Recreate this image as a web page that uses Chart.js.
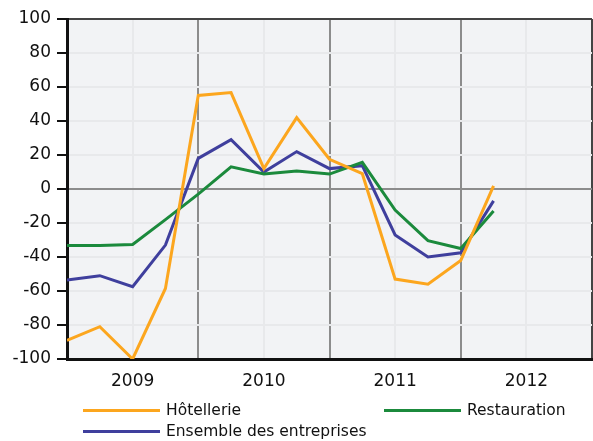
<!DOCTYPE html>
<html>
<head>
<meta charset="utf-8">
<script src="https://cdn.jsdelivr.net/npm/chart.js@4.4.1/dist/chart.umd.min.js"></script>
<style>
    html, body { margin: 0; padding: 0; background: #fff; }
    #wrap { position: relative; width: 593px; height: 441px; }
    #legend { position: absolute; left: 0; top: 0; width: 593px; height: 441px; pointer-events: none;
        font-family: "DejaVu Sans", sans-serif; font-size: 15.5px; color: #111; }
    .item { position: absolute; display: flex; align-items: center; white-space: nowrap; }
    .item .swatch { width: 77px; height: 3px; margin-right: 6px; }
</style>
</head>
<body>
<div id="wrap">
    <canvas id="chart" width="593" height="441"></canvas>
    <div id="legend"></div>
</div>
<script>
// quarters 2009 Q1 .. 2012 Q2
const quarters = [0, 1, 2, 3, 4, 5, 6, 7, 8, 9, 10, 11, 12, 13];
const years = ['2009', '2010', '2011', '2012'];
const yTicks = [-100, -80, -60, -40, -20, 0, 20, 40, 60, 80, 100];

const hotellerie = [-89, -81, -100, -58.5, 55, 56.7, 12, 42, 17.5, 9, -53, -56, -42, 1.8];
const restauration = [-33.3, -33.3, -32.6, -18, -3, 13, 8.8, 10.6, 8.8, 15.7, -12.4, -30.4, -35, -13];
const ensemble = [-53.5, -51, -57.5, -33, 18, 29, 10, 22, 12, 13.7, -27, -40, -37.5, -7];

const series = [
    { label: 'Hôtellerie', data: hotellerie, color: '#fca61e' },
    { label: 'Restauration', data: restauration, color: '#1b8a3c' },
    { label: 'Ensemble des entreprises', data: ensemble, color: '#3f3f9d' }
];

// legend slots (left, centre y)
const legendPos = [[83, 410], [384, 410], [83, 431]];

const plotBackground = {
    id: 'plotBackground',
    beforeDraw(chart) {
        const a = chart.chartArea;
        const ctx = chart.ctx;
        ctx.save();
        ctx.fillStyle = '#f2f3f5';
        ctx.fillRect(a.left, a.top, a.right - a.left, a.bottom - a.top);
        ctx.restore();
    }
};

new Chart(document.getElementById('chart').getContext('2d'), {
    type: 'line',
    data: {
        datasets: series.map(s => ({
            label: s.label,
            data: s.data.map((v, i) => ({ x: quarters[i], y: v })),
            borderColor: s.color,
            backgroundColor: s.color,
            borderWidth: 3,
            pointRadius: 0,
            tension: 0,
            fill: false
        }))
    },
    options: {
        responsive: false,
        animation: false,
        layout: { padding: { top: 19, right: 1, bottom: 0, left: 0 } },
        plugins: {
            legend: { display: false },
            tooltip: { enabled: false }
        },
        scales: {
            x: {
                type: 'linear',
                min: 0,
                max: 16,
                afterFit: scale => {
                    scale.height = 82;
                    scale.paddingLeft = 0;
                    scale.paddingRight = 0;
                },
                afterBuildTicks: scale => {
                    scale.ticks = [0, 2, 4, 6, 8, 10, 12, 14, 16].map(v => ({ value: v }));
                },
                ticks: {
                    autoSkip: false,
                    maxRotation: 0,
                    padding: 12,
                    color: '#111',
                    font: { family: 'DejaVu Sans', size: 17 },
                    callback: v => (v % 4 === 2 ? years[(v - 2) / 4] : '')
                },
                grid: {
                    drawTicks: false,
                    lineWidth: 2,
                    color: c => {
                        const v = c.tick ? c.tick.value : 0;
                        if (v === 16) return '#444';
                        if (v % 4 === 0) return '#8c8c8c';
                        return '#e8e9eb';
                    }
                },
                border: { color: '#111', width: 3 }
            },
            y: {
                min: -100,
                max: 100,
                afterFit: scale => {
                    scale.width = 67;
                    scale.paddingTop = 0;
                    scale.paddingBottom = 0;
                },
                afterBuildTicks: scale => {
                    scale.ticks = yTicks.map(v => ({ value: v }));
                },
                ticks: {
                    padding: 6,
                    color: '#111',
                    font: { family: 'DejaVu Sans', size: 17 }
                },
                grid: {
                    tickLength: 10,
                    lineWidth: 2,
                    tickColor: '#111',
                    color: c => {
                        const v = c.tick ? c.tick.value : 0;
                        if (v === 100) return '#444';
                        if (v === 0) return '#8c8c8c';
                        return '#e8e9eb';
                    }
                },
                border: { color: '#111', width: 3 }
            }
        }
    },
    plugins: [plotBackground]
});

// html legend built from the series
const legend = document.getElementById('legend');
series.forEach((s, i) => {
    const item = document.createElement('div');
    item.className = 'item';
    item.style.left = legendPos[i][0] + 'px';
    item.style.top = (legendPos[i][1] - 10) + 'px';
    item.style.height = '20px';
    const sw = document.createElement('span');
    sw.className = 'swatch';
    sw.style.background = s.color;
    const txt = document.createElement('span');
    txt.textContent = s.label;
    item.appendChild(sw);
    item.appendChild(txt);
    legend.appendChild(item);
});
</script>
</body>
</html>
